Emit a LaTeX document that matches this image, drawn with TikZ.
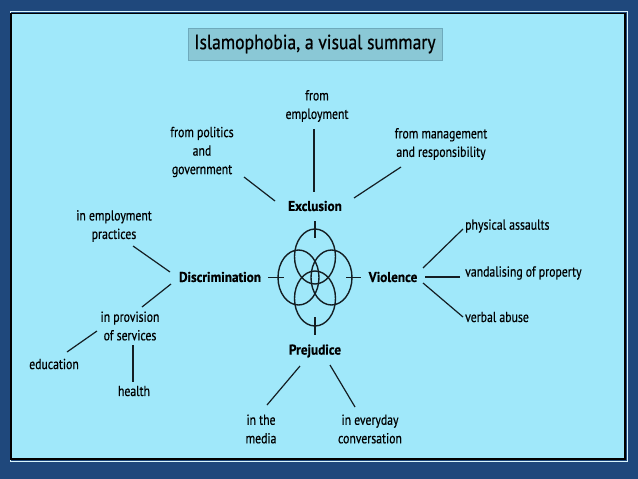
\documentclass[tikz,border=0pt]{standalone}
\usepackage{fontspec}
\setmainfont{PT Sans}[FakeStretch=0.81, FakeBold=0.5]
\newfontfamily\keyfont{PT Sans}[FakeStretch=0.93, FakeBold=0.6]
\newfontfamily\titlefont{PT Sans}[FakeStretch=0.86, FakeBold=0.6]
\definecolor{navy}{RGB}{31,72,124}
\definecolor{panel}{RGB}{160,232,250}
\definecolor{tbox}{RGB}{138,200,214}
\definecolor{tboxline}{RGB}{110,170,188}
\definecolor{ink}{RGB}{20,30,35}
\begin{document}
\begin{tikzpicture}[x=1pt,y=-1pt,
  lab/.style={font=\fontsize{14.5}{18.5}\selectfont, align=center, inner sep=0pt, text=black},
  labw/.style={lab, anchor=west},
  keyw/.style={font=\keyfont\fontsize{14.2}{16}\selectfont\bfseries, inner sep=0pt, text=black},
  conn/.style={draw=ink, line width=1.2pt},
  ring/.style={draw=ink, line width=1.4pt}]
\useasboundingbox (0,0) rectangle (638,479);
\fill[navy] (0,0) rectangle (638,479);
\draw[draw=white!60!panel, line width=0.8pt] (10,11.5) rectangle (627,461);
\fill[panel] (11,13) rectangle (625,459);
\draw[black, line width=1.2pt] (11,13.5) rectangle (625,459);
% title
\node[draw=tboxline, fill=tbox, minimum width=254pt, minimum height=32pt, inner sep=0pt,
      font=\titlefont\fontsize{20.5}{22}\selectfont, text=black] (title) at (315,44) {Islamophobia, a visual summary};
% key nodes
\node[keyw] (excl) at (315,206) {Exclusion};
\node[keyw] (disc) at (220,277) {Discrimination};
\node[keyw] (viol) at (393,277) {Violence};
\node[keyw] (prej) at (315,351) {Prejudice};
% leaves
\node[lab] (emp) at (317,106) {from\\employment};
\node[lab] (pol) at (202,152) {from politics\\and\\government};
\node[lab] (mgmt) at (441,144) {from management\\and responsibility};
\node[lab] (empprac) at (114,226) {in employment\\practices};
\node[lab] (prov) at (130,326) {in provision\\of services};
\node[lab] (edu) at (54,364) {education};
\node[lab] (health) at (134,391) {health};
\node[labw] (phys) at (465,226) {physical assaults};
\node[labw] (vand) at (465,273) {vandalising of property};
\node[labw] (verb) at (465,317) {verbal abuse};
\node[lab] (media) at (261,429) {in the\\media};
\node[lab] (everyday) at (370,429) {in everyday\\conversation};
% connector end points
\coordinate (c1a) at (314,129); \coordinate (c1b) at (314,192);
\coordinate (c2a) at (244,177); \coordinate (c2b) at (275,201);
\coordinate (c3a) at (354,198); \coordinate (c3b) at (401,167);
\coordinate (c4a) at (133,246); \coordinate (c4b) at (170,272);
\coordinate (c5a) at (171,284); \coordinate (c5b) at (142,307);
\coordinate (c6a) at (97,331);  \coordinate (c6b) at (67,352);
\coordinate (c7a) at (133,345); \coordinate (c7b) at (133,382);
\coordinate (c8a) at (423,268); \coordinate (c8b) at (463,229);
\coordinate (c9a) at (425,277); \coordinate (c9b) at (460,277);
\coordinate (c10a) at (423,283); \coordinate (c10b) at (463,317);
\coordinate (c11a) at (300,366); \coordinate (c11b) at (267,405);
\coordinate (c12a) at (330,365); \coordinate (c12b) at (355,407);
\foreach \i in {1,...,12} {\draw[conn] (c\i a) -- (c\i b);}
% rings
\coordinate (ctr) at (315,277.5);
\draw[ring] (315,256.5) ellipse [x radius=20.5pt, y radius=27.5pt];
\draw[ring] (315,298.5) ellipse [x radius=20.5pt, y radius=27.5pt];
\draw[ring] (298.5,277.5) ellipse [x radius=20.5pt, y radius=27.5pt];
\draw[ring] (331.5,277.5) ellipse [x radius=20.5pt, y radius=27.5pt];
\coordinate (t1a) at (315,221); \coordinate (t1b) at (315,238);
\coordinate (t2a) at (315,317); \coordinate (t2b) at (315,335);
\coordinate (t3a) at (268,277.5); \coordinate (t3b) at (284,277.5);
\coordinate (t4a) at (346,277.5); \coordinate (t4b) at (361,277.5);
\foreach \i in {1,...,4} {\draw[conn] (t\i a) -- (t\i b);}
\end{tikzpicture}
\end{document}
